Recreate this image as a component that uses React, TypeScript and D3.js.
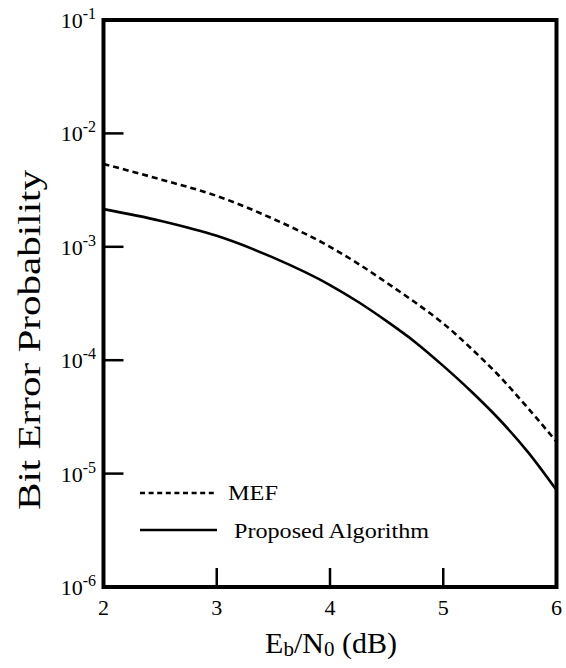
import React from "react";
import * as d3 from "d3";

const ebn0 = [2, 2.5, 3, 3.5, 4, 4.25, 4.5, 4.75, 5, 5.25, 5.5, 5.75, 6];
const mef = [5.37e-3, 3.94e-3, 2.81e-3, 1.76e-3, 1.0e-3, 7.08e-4, 4.83e-4, 3.24e-4, 2.11e-4, 1.26e-4, 7.16e-5, 3.76e-5, 1.91e-5];
const proposed = [2.15e-3, 1.70e-3, 1.25e-3, 8.02e-4, 4.6e-4, 3.26e-4, 2.21e-4, 1.45e-4, 8.91e-5, 5.27e-5, 2.97e-5, 1.54e-5, 7.16e-6];
const xTicks = [2, 3, 4, 5, 6];
const yExponents = [-1, -2, -3, -4, -5, -6];
const seriesNames = ["MEF", "Proposed Algorithm"];

const W = 566, H = 668;
const L = 103.5, R = 556.5, T = 20, B = 587;
const FONT = "Liberation Serif, Times New Roman, serif";

export default function App() {
  const x = d3.scaleLinear().domain([2, 6]).range([L, R]);
  const y = d3.scaleLog().domain([1e-6, 1e-1]).range([B, T]);
  const line = d3
    .line<number>()
    .x((_, i) => x(ebn0[i]))
    .y((d) => y(d))
    .curve(d3.curveMonotoneX);

  return (
    <svg width={W} height={H} style={{ position: "absolute", left: 0, top: 0, fontFamily: FONT }}>
      <rect width={W} height={H} fill="#fff" />
      <defs>
        <clipPath id="plot">
          <rect x={L} y={T} width={R - L} height={B - T} />
        </clipPath>
      </defs>
      <g clipPath="url(#plot)" fill="none" stroke="#000" strokeWidth={2.6}>
        <path d={line(mef) || ""} strokeDasharray="6,4" />
        <path d={line(proposed) || ""} />
      </g>
      <g stroke="#000" strokeWidth={2.5}>
        {yExponents.slice(1, -1).map((e) => (
          <line key={e} x1={L} x2={L + 20} y1={y(Math.pow(10, e))} y2={y(Math.pow(10, e))} />
        ))}
        {xTicks.slice(1, -1).map((t) => (
          <line key={t} x1={x(t)} x2={x(t)} y1={B} y2={B - 19} />
        ))}
      </g>
      <rect x={L} y={T} width={R - L} height={B - T} fill="none" stroke="#000" strokeWidth={4} />
      {yExponents.map((e) => (
        <text key={e} x={96} y={y(Math.pow(10, e)) + 8} textAnchor="end" fontSize={22}>
          <tspan>10</tspan>
          <tspan fontSize={16} dy={-9}>{String(e)}</tspan>
        </text>
      ))}
      {xTicks.map((t) => (
        <text key={t} x={x(t)} y={615} textAnchor="middle" fontSize={22}>
          {t}
        </text>
      ))}
      <text x={331} y={653} textAnchor="middle" fontSize={30}>
        <tspan>E</tspan>
        <tspan fontSize={21} dy={3}>b</tspan>
        <tspan dy={-3}>/N</tspan>
        <tspan fontSize={21} dy={3}>0</tspan>
        <tspan dy={-3}> (dB)</tspan>
      </text>
      <text
        transform={`translate(40,${340}) rotate(-90)`}
        textAnchor="middle"
        fontSize={32}
        textLength={340}
        lengthAdjust="spacingAndGlyphs"
      >
        Bit Error Probability
      </text>
      <g stroke="#000" strokeWidth={2.6}>
        <line x1={140} x2={217} y1={493} y2={493} strokeDasharray="5,3.6" />
        <line x1={140} x2={217} y1={530} y2={530} />
      </g>
      <text x={228} y={500} fontSize={22} textLength={50} lengthAdjust="spacingAndGlyphs">{seriesNames[0]}</text>
      <text x={234} y={538} fontSize={22} textLength={195} lengthAdjust="spacingAndGlyphs">{seriesNames[1]}</text>
    </svg>
  );
}
